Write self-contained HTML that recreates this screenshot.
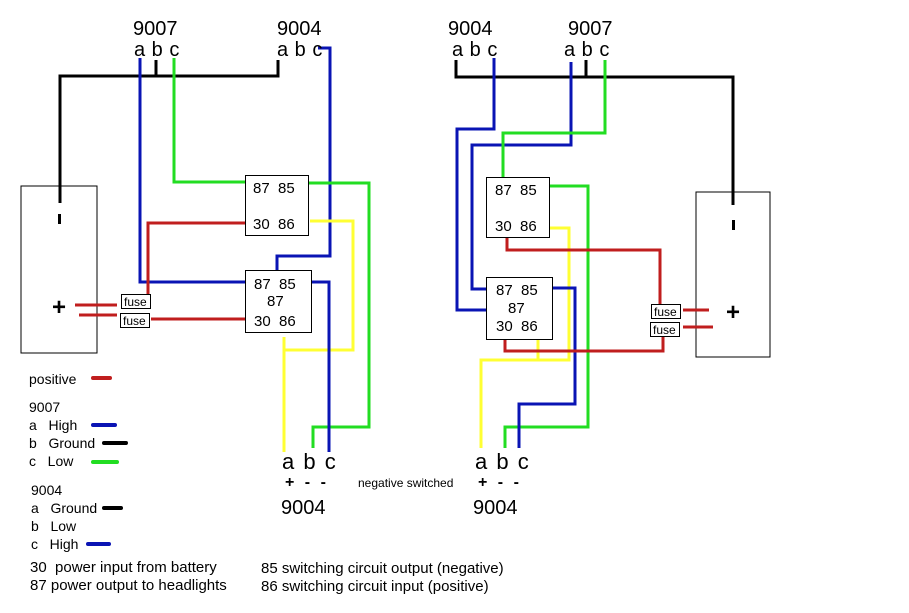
<!DOCTYPE html>
<html><head><meta charset="utf-8"><style>
html,body{margin:0;padding:0;background:#fff;width:909px;height:613px;overflow:hidden}
svg{display:block}
text{font-family:"Liberation Sans",sans-serif;fill:#000;white-space:pre}
</style></head><body>
<svg width="909" height="613" viewBox="0 0 909 613" xmlns="http://www.w3.org/2000/svg" xml:space="preserve">
<g fill="none" stroke-width="3" stroke-linejoin="miter">
<polyline stroke="#000" points="60,203 60,76 278,76 278,60"/>
<line stroke="#000" x1="156" y1="60" x2="156" y2="76"/>
<rect x="21" y="186" width="76" height="167" stroke="#000" stroke-width="1"/>
<polyline stroke="#0a14b4" points="140,58 140,282 247,282"/>
<polyline stroke="#22dd22" points="174,58 174,182 247,182"/>
<polyline stroke="#0a14b4" points="318,48 330,48 330,256 277,256 277,293"/>
<polyline stroke="#c01e1e" points="148,294 148,223 245,223"/>
<line stroke="#c01e1e" x1="151" y1="319" x2="249" y2="319"/>
<line stroke="#c01e1e" x1="75" y1="305" x2="117" y2="305"/>
<line stroke="#c01e1e" x1="79" y1="315" x2="117" y2="315"/>
<polyline stroke="#22dd22" points="304,183 369,183 369,427 313,427 313,448"/>
<polyline stroke="#ffff33" points="310,221 353,221 353,350 284,350"/>
<polyline stroke="#ffff33" points="284,337 284,452"/>
<polyline stroke="#0a14b4" points="302,282 329,282 329,452"/>
<polyline stroke="#000" points="456,60 456,77 733,77 733,205"/>
<line stroke="#000" x1="586" y1="60" x2="586" y2="77"/>
<rect x="696" y="192" width="74" height="165" stroke="#000" stroke-width="1"/>
<polyline stroke="#0a14b4" points="494,58 494,129 457,129 457,310 505,310"/>
<polyline stroke="#0a14b4" points="571,62 571,145 472,145 472,289 490,289"/>
<polyline stroke="#22dd22" points="605,60 605,133 503,133 503,178"/>
<polyline stroke="#22dd22" points="545,186 588,186 588,427 505,427 505,448"/>
<polyline stroke="#ffff33" points="538,228 569,228 569,360 481,360 481,448"/>
<line stroke="#ffff33" x1="538" y1="330" x2="538" y2="360"/>
<polyline stroke="#0a14b4" points="550,288 575,288 575,404 519,404 519,448"/>
<polyline stroke="#c01e1e" points="507,237 507,250 660,250 660,305"/>
<polyline stroke="#c01e1e" points="505,339 505,351 663,351 663,337"/>
<line stroke="#c01e1e" x1="683" y1="310" x2="709" y2="310"/>
<line stroke="#c01e1e" x1="683" y1="327" x2="713" y2="327"/>
<line stroke="#c01e1e" x1="93" y1="378" x2="110" y2="378" stroke-width="4" stroke-linecap="round"/>
<line stroke="#0a14b4" x1="93" y1="425" x2="115" y2="425" stroke-width="4" stroke-linecap="round"/>
<line stroke="#000" x1="104" y1="443" x2="126" y2="443" stroke-width="4" stroke-linecap="round"/>
<line stroke="#22dd22" x1="93" y1="462" x2="117" y2="462" stroke-width="4" stroke-linecap="round"/>
<line stroke="#000" x1="104" y1="508" x2="121" y2="508" stroke-width="4" stroke-linecap="round"/>
<line stroke="#0a14b4" x1="88" y1="544" x2="109" y2="544" stroke-width="4" stroke-linecap="round"/>
</g>
<rect x="58" y="214" width="3" height="10" fill="#000"/>
<rect x="732" y="220" width="3" height="10" fill="#000"/>
<g fill="#fff" stroke="#000" stroke-width="1">
<rect x="245.5" y="175.5" width="63" height="60"/>
<rect x="245.5" y="270.5" width="66" height="62"/>
<rect x="486.5" y="177.5" width="63" height="60"/>
<rect x="486.5" y="277.5" width="66" height="62"/>
<rect x="121.5" y="294.5" width="29" height="14"/>
<rect x="120.5" y="313.5" width="29" height="14"/>
<rect x="651.5" y="304.5" width="29" height="14"/>
<rect x="650.5" y="322.5" width="29" height="14"/>
</g>
<g font-size="15">
<text x="253" y="193">87  85</text><text x="253" y="229">30  86</text>
<text x="254" y="289">87  85</text><text x="267" y="306">87</text><text x="254" y="326">30  86</text>
<text x="495" y="195">87  85</text><text x="495" y="231">30  86</text>
<text x="496" y="295">87  85</text><text x="508" y="313">87</text><text x="496" y="331">30  86</text>
</g>
<g font-size="12">
<text x="124" y="306">fuse</text><text x="123" y="325">fuse</text>
<text x="654" y="316">fuse</text><text x="653" y="334">fuse</text>
<text x="358" y="487">negative switched</text>
</g>
<g font-size="20">
<text x="133" y="35">9007</text><text x="277" y="35">9004</text>
<text x="448" y="35">9004</text><text x="568" y="35">9007</text>
<text x="281" y="514">9004</text><text x="473" y="514">9004</text>
</g>
<g font-size="20" word-spacing="1">
<text x="134" y="56">a b c</text><text x="277" y="56">a b c</text>
<text x="452" y="56">a b c</text><text x="564" y="56">a b c</text>
</g>
<g font-size="22" word-spacing="3">
<text x="282" y="469">a b c</text><text x="475" y="469">a b c</text>
</g>
<g font-size="16" font-weight="bold" word-spacing="6">
<text x="285" y="487">+ - -</text><text x="478" y="487">+ - -</text>
</g>
<text x="52" y="315" font-size="24" font-weight="bold">+</text>
<text x="726" y="320" font-size="24" font-weight="bold">+</text>
<g font-size="14">
<text x="29" y="384">positive</text>
<text x="29" y="412">9007</text>
<text x="29" y="430">a   High</text>
<text x="29" y="448">b   Ground</text>
<text x="29" y="466">c   Low</text>
<text x="31" y="495">9004</text>
<text x="31" y="513">a   Ground</text>
<text x="31" y="531">b   Low</text>
<text x="31" y="549">c   High</text>
</g>
<g font-size="15">
<text x="30" y="572">30  power input from battery</text>
<text x="30" y="590">87 power output to headlights</text>
<text x="261" y="573">85 switching circuit output (negative)</text>
<text x="261" y="591">86 switching circuit input (positive)</text>
</g>
</svg>
</body></html>
